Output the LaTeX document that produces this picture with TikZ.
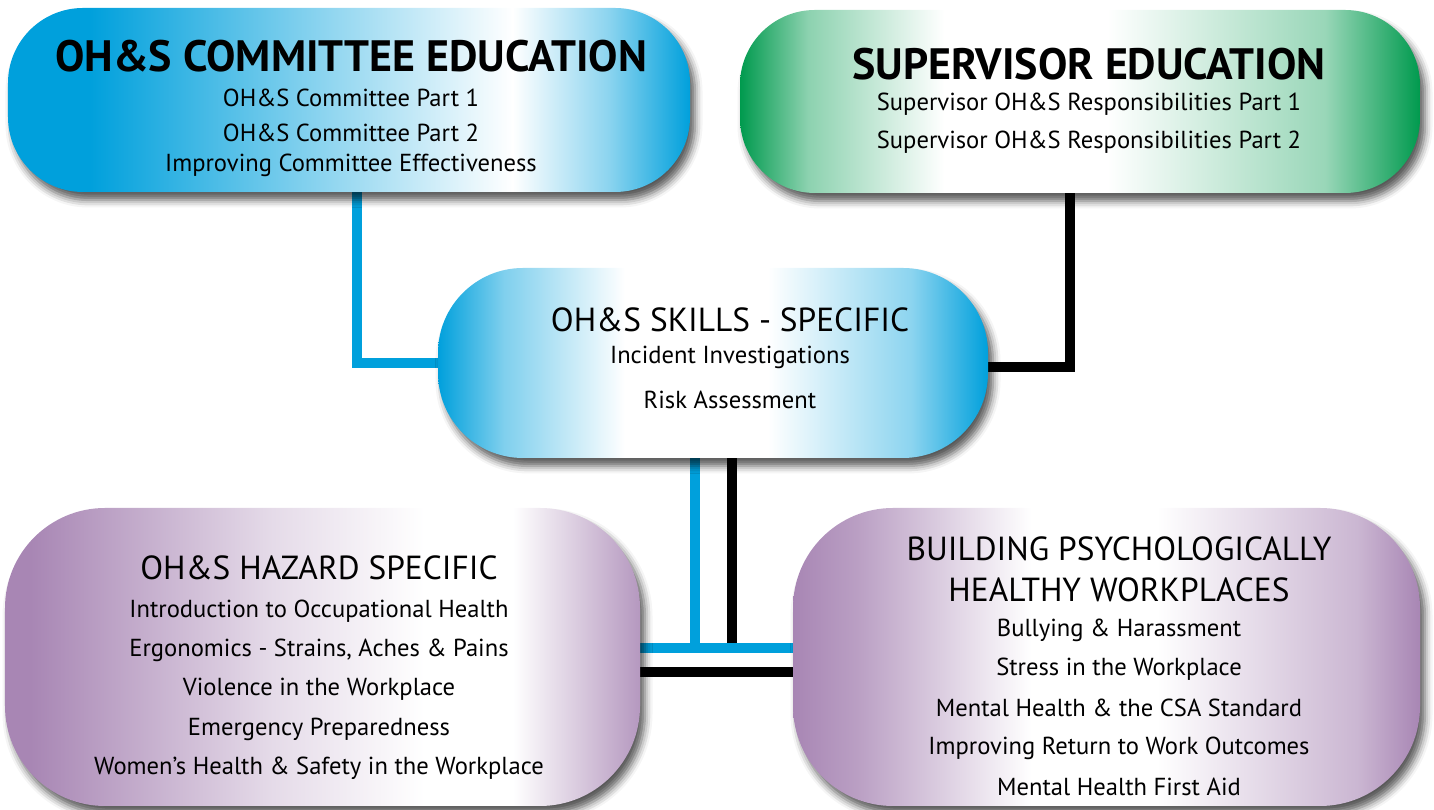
\documentclass[tikz,border=0pt]{standalone}
\usepackage{fontspec}
\setmainfont{PT Sans}
\usetikzlibrary{shadows.blur}

\definecolor{ohsblue}{HTML}{00A0DC}
\definecolor{ohsgreen}{HTML}{009A4E}
\definecolor{ohspurple}{HTML}{A886B4}

\pgfdeclarehorizontalshading{cmteshade}{100bp}{color(0bp)=(ohsblue); color(31bp)=(ohsblue); color(45bp)=(ohsblue!55); color(62bp)=(white); color(69bp)=(ohsblue!45); color(75bp)=(ohsblue); color(100bp)=(ohsblue)}
\pgfdeclarehorizontalshading{supvshade}{100bp}{color(0bp)=(ohsgreen); color(25bp)=(ohsgreen); color(30bp)=(ohsgreen!45); color(40bp)=(white); color(52bp)=(white); color(68bp)=(ohsgreen!40); color(75bp)=(ohsgreen); color(100bp)=(ohsgreen)}
\pgfdeclarehorizontalshading{skillshade}{100bp}{color(0bp)=(ohsblue); color(25bp)=(ohsblue); color(31bp)=(ohsblue!50); color(42bp)=(white); color(55bp)=(white); color(68bp)=(ohsblue!45); color(75bp)=(ohsblue); color(100bp)=(ohsblue)}
\pgfdeclarehorizontalshading{hazshade}{100bp}{color(0bp)=(ohspurple); color(27bp)=(ohspurple); color(46bp)=(ohspurple!30); color(58bp)=(white); color(65bp)=(white); color(75bp)=(ohspurple!85); color(100bp)=(ohspurple)}
\pgfdeclarehorizontalshading{psyshade}{100bp}{color(0bp)=(ohspurple); color(25bp)=(ohspurple); color(30bp)=(ohspurple!80); color(44bp)=(white); color(54bp)=(white); color(70bp)=(ohspurple!60); color(75bp)=(ohspurple); color(100bp)=(ohspurple)}

\pgfdeclarelayer{background}
\pgfsetlayers{background,main}

\tikzset{
    ohsbox/.style={inner sep=0pt, blur shadow={shadow xshift=0.1cm, shadow yshift=-0.16cm, shadow blur radius=0.15cm, shadow opacity=65}},
    bluelink/.style={line width=0.2cm, ohsblue},
    blacklink/.style={line width=0.2cm, black},
    headbold/.style={font=\fontsize{25}{29}\selectfont\bfseries, inner sep=0pt},
    headplain/.style={font=\fontsize{19}{23}\selectfont, inner sep=0pt},
    item/.style={font=\fontsize{14}{17}\selectfont, inner sep=0pt}
}

\begin{document}
\begin{tikzpicture}
    \useasboundingbox (0,0) rectangle (28.68,16.2);
    % boxes
    \node[ohsbox, shading=cmteshade, minimum width=13.64cm, minimum height=3.68cm, rounded corners=1.5cm] (cmte) at (6.98,14.2) {};
    \node[ohsbox, shading=supvshade, minimum width=13.6cm, minimum height=3.66cm, rounded corners=1.5cm] (supv) at (21.6,14.17) {};
    \node[ohsbox, shading=skillshade, minimum width=11cm, minimum height=3.8cm, rounded corners=1.7cm] (skill) at (14.26,8.94) {};
    \node[ohsbox, shading=hazshade, minimum width=12.7cm, minimum height=5.96cm, rounded corners=2cm] (haz) at (6.45,3.06) {};
    \node[ohsbox, shading=psyshade, minimum width=12.54cm, minimum height=5.96cm, rounded corners=2cm] (psy) at (22.13,3.06) {};

    % connectors
    \begin{pgfonlayer}{background}
        \coordinate (bluebus) at ([yshift=0.18cm]haz.east);
        \draw[bluelink] ([xshift=0.16cm]cmte.south) |- (skill.west);
        \draw[blacklink] ([xshift=-0.2cm]supv.south) |- ([yshift=-0.08cm]skill.east);
        \draw[blacklink] ([xshift=0.38cm]skill.south) -- ([xshift=0.38cm]skill.south |- bluebus);
        \draw[blacklink] ([yshift=-0.3cm]haz.east) -- ([yshift=-0.3cm]psy.west);
        \draw[bluelink] ([xshift=-0.36cm]skill.south) |- (bluebus);
        \draw[bluelink] (bluebus) -- (bluebus -| psy.west);
    \end{pgfonlayer}

    % texts
    \node[headbold] (cmtehead) at (7.02,15.08) {OH\&S COMMITTEE EDUCATION};
    \foreach \txt/\y [count=\k] in {OH\&S Committee Part 1/14.24, OH\&S Committee Part 2/13.54, Improving Committee Effectiveness/12.9}
        \node[item] (cmte\k) at (7.02,\y) {\txt};

    \node[headbold] (supvhead) at (21.78,14.92) {SUPERVISOR EDUCATION};
    \foreach \txt/\y [count=\k] in {Supervisor OH\&S Responsibilities Part 1/14.12, Supervisor OH\&S Responsibilities Part 2/13.36}
        \node[item] (supv\k) at (21.78,\y) {\txt};

    \node[headplain] (skillhead) at (14.6,9.8) {OH\&S SKILLS - SPECIFIC};
    \foreach \txt/\y [count=\k] in {Incident Investigations/9.06, Risk Assessment/8.2}
        \node[item] (skill\k) at (14.6,\y) {\txt};

    \node[headplain] (hazhead) at (6.38,4.84) {OH\&S HAZARD SPECIFIC};
    \foreach \txt/\y [count=\k] in {Introduction to Occupational Health/3.98, {Ergonomics - Strains, Aches \& Pains}/3.2, Violence in the Workplace/2.42, Emergency Preparedness/1.62, Women’s Health \& Safety in the Workplace/0.84}
        \node[item] (haz\k) at (6.38,\y) {\txt};

    \node[headplain] (psyhead1) at (22.38,5.22) {BUILDING PSYCHOLOGICALLY};
    \node[headplain] (psyhead2) at (22.38,4.4) {HEALTHY WORKPLACES};
    \foreach \txt/\y [count=\k] in {Bullying \& Harassment/3.6, Stress in the Workplace/2.82, Mental Health \& the CSA Standard/2.04, Improving Return to Work Outcomes/1.24, Mental Health First Aid/0.46}
        \node[item] (psy\k) at (22.38,\y) {\txt};
\end{tikzpicture}
\end{document}
